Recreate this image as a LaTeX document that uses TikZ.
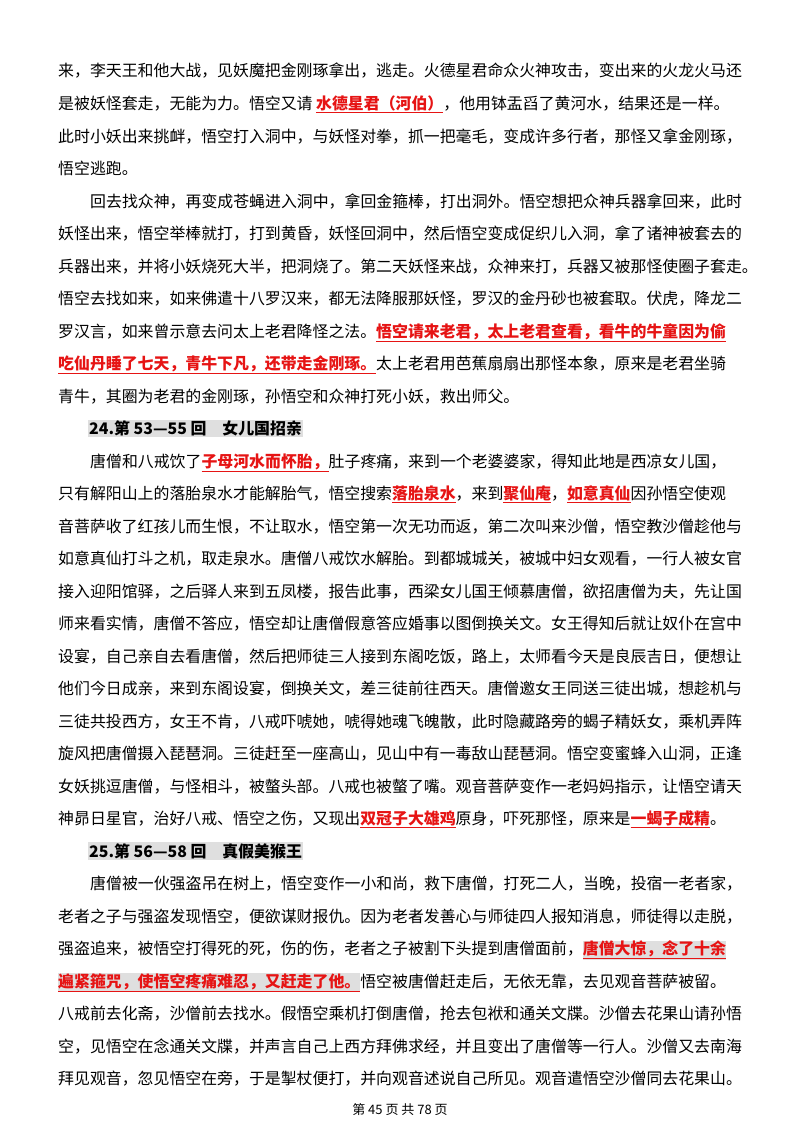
\documentclass[tikz,border=0pt]{standalone}
\usepackage{fontspec}
\usepackage{xcolor}
\setmainfont{Noto Sans CJK SC}
\usetikzlibrary{positioning}
\definecolor{hlred}{RGB}{230,20,20}
\newcommand\hl[1]{\textcolor{hlred}{\bfseries\underline{#1}}}
\newcommand\hg[1]{{\setlength{\fboxsep}{0pt}\colorbox{gray!25}{\strut\hl{#1}}}}
\newcommand\txt[3]{\node[body] (l#1) at (#2,{77+32.5*(#1-1)}) {#3};}

\begin{document}
\begin{tikzpicture}[x=1pt, y=-1pt]
    \tikzstyle{body} = [anchor=base west, inner sep=0pt, font=\fontsize{15.9}{18}\selectfont]
    \tikzstyle{heading} = [anchor=base west, inner sep=1pt, fill=gray!25, font=\fontsize{15.9}{18}\selectfont\bfseries]
    \useasboundingbox[fill=white] (0,0) rectangle (800,1132);

    \txt{1}{58}{来，李天王和他大战，见妖魔把金刚琢拿出，逃走。火德星君命众火神攻击，变出来的火龙火马还}
    \txt{2}{58}{是被妖怪套走，无能为力。悟空又请 \hl{水德星君（河伯）}，他用钵盂舀了黄河水，结果还是一样。}
    \txt{3}{58}{此时小妖出来挑衅，悟空打入洞中，与妖怪对拳，抓一把毫毛，变成许多行者，那怪又拿金刚琢，}
    \txt{4}{58}{悟空逃跑。}
    \txt{5}{90}{回去找众神，再变成苍蝇进入洞中，拿回金箍棒，打出洞外。悟空想把众神兵器拿回来，此时}
    \txt{6}{58}{妖怪出来，悟空举棒就打，打到黄昏，妖怪回洞中，然后悟空变成促织儿入洞，拿了诸神被套去的}
    \txt{7}{58}{兵器出来，并将小妖烧死大半，把洞烧了。第二天妖怪来战，众神来打，兵器又被那怪使圈子套走。}
    \txt{8}{58}{悟空去找如来，如来佛遣十八罗汉来，都无法降服那妖怪，罗汉的金丹砂也被套取。伏虎，降龙二}
    \txt{9}{58}{罗汉言，如来曾示意去问太上老君降怪之法。\hl{悟空请来老君，太上老君查看，看牛的牛童因为偷}}
    \txt{10}{58}{\hl{吃仙丹睡了七天，青牛下凡，还带走金刚琢。}太上老君用芭蕉扇扇出那怪本象，原来是老君坐骑}
    \txt{11}{58}{青牛，其圈为老君的金刚琢，孙悟空和众神打死小妖，救出师父。}
    \node[heading] (h24) at (88,{77+32.5*11}) {24.第 53—55 回\quad 女儿国招亲};
    \txt{13}{90}{唐僧和八戒饮了\hl{子母河水而怀胎，}肚子疼痛，来到一个老婆婆家，得知此地是西凉女儿国，}
    \txt{14}{58}{只有解阳山上的落胎泉水才能解胎气，悟空搜索\hl{落胎泉水}，来到\hl{聚仙庵}，\hl{如意真仙}因孙悟空使观}
    \txt{15}{58}{音菩萨收了红孩儿而生恨，不让取水，悟空第一次无功而返，第二次叫来沙僧，悟空教沙僧趁他与}
    \txt{16}{58}{如意真仙打斗之机，取走泉水。唐僧八戒饮水解胎。到都城城关，被城中妇女观看，一行人被女官}
    \txt{17}{58}{接入迎阳馆驿，之后驿人来到五凤楼，报告此事，西梁女儿国王倾慕唐僧，欲招唐僧为夫，先让国}
    \txt{18}{58}{师来看实情，唐僧不答应，悟空却让唐僧假意答应婚事以图倒换关文。女王得知后就让奴仆在宫中}
    \txt{19}{58}{设宴，自己亲自去看唐僧，然后把师徒三人接到东阁吃饭，路上，太师看今天是良辰吉日，便想让}
    \txt{20}{58}{他们今日成亲，来到东阁设宴，倒换关文，差三徒前往西天。唐僧邀女王同送三徒出城，想趁机与}
    \txt{21}{58}{三徒共投西方，女王不肯，八戒吓唬她，唬得她魂飞魄散，此时隐藏路旁的蝎子精妖女，乘机弄阵}
    \txt{22}{58}{旋风把唐僧摄入琵琶洞。三徒赶至一座高山，见山中有一毒敌山琵琶洞。悟空变蜜蜂入山洞，正逢}
    \txt{23}{58}{女妖挑逗唐僧，与怪相斗，被螫头部。八戒也被螫了嘴。观音菩萨变作一老妈妈指示，让悟空请天}
    \txt{24}{58}{神昴日星官，治好八戒、悟空之伤，又现出\hl{双冠子大雄鸡}原身，吓死那怪，原来是\hl{一蝎子成精}。}
    \node[heading] (h25) at (88,{77+32.5*24}) {25.第 56—58 回\quad 真假美猴王};
    \txt{26}{90}{唐僧被一伙强盗吊在树上，悟空变作一小和尚，救下唐僧，打死二人，当晚，投宿一老者家，}
    \txt{27}{58}{老者之子与强盗发现悟空，便欲谋财报仇。因为老者发善心与师徒四人报知消息，师徒得以走脱，}
    \txt{28}{58}{强盗追来，被悟空打得死的死，伤的伤，老者之子被割下头提到唐僧面前，\hg{唐僧大惊，念了十余}}
    \txt{29}{58}{\hg{遍紧箍咒，使悟空疼痛难忍，又赶走了他。}悟空被唐僧赶走后，无依无靠，去见观音菩萨被留。}
    \txt{30}{58}{八戒前去化斋，沙僧前去找水。假悟空乘机打倒唐僧，抢去包袱和通关文牒。沙僧去花果山请孙悟}
    \txt{31}{58}{空，见悟空在念通关文牒，并声言自己上西方拜佛求经，并且变出了唐僧等一行人。沙僧又去南海}
    \txt{32}{58}{拜见观音，忽见悟空在旁，于是掣杖便打，并向观音述说自己所见。观音遣悟空沙僧同去花果山。}
    \node[font=\fontsize{13}{15}\selectfont] (footer) at (400,1110) {第\ 45\ 页\ 共\ 78\ 页};
\end{tikzpicture}
\end{document}
